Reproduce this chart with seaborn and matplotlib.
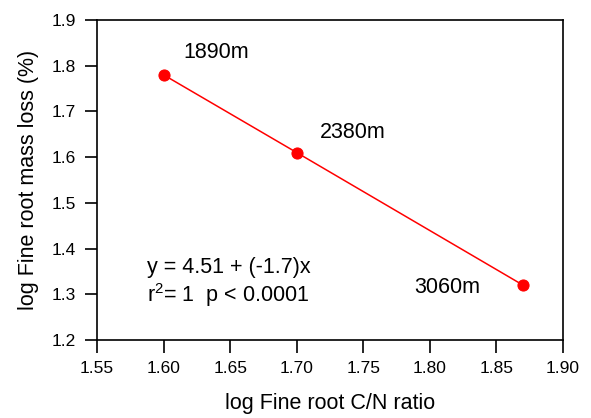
import matplotlib
matplotlib.use("Agg")
import matplotlib.pyplot as plt
import seaborn as sns
import pandas as pd

# Fine root C/N ratio vs. mass loss at three elevations
cn_ratio = [1.60, 1.70, 1.87]
mass_loss = [1.78, 1.61, 1.32]
sites = ["1890m", "2380m", "3060m"]
label_x = [1.615, 1.7175, 1.788]
label_y = [1.828, 1.653, 1.314]
x_ticks = [1.55, 1.60, 1.65, 1.70, 1.75, 1.80, 1.85, 1.90]
y_ticks = [1.2, 1.3, 1.4, 1.5, 1.6, 1.7, 1.8, 1.9]

df = pd.DataFrame({"cn": cn_ratio, "loss": mass_loss, "site": sites})

sns.set_style("white")
plt.rcParams["font.family"] = ["Liberation Sans", "DejaVu Sans"]
plt.rcParams["text.color"] = "black"
plt.rcParams["axes.labelcolor"] = "black"

fig = plt.figure(figsize=(5.91, 4.18), dpi=100)
ax = fig.add_axes([0.1641, 0.1866, 0.7885, 0.7656])

sns.lineplot(data=df, x="cn", y="loss", color="#ff0000", linewidth=1.1,
             marker="o", markersize=8, markeredgecolor="#ff0000", ax=ax)

for xl, yl, s in zip(label_x, label_y, sites):
    ax.text(xl, yl, s, fontsize=15.5, ha="left", va="center", color="black")

ax.text(1.5876, 1.3575, "y = 4.51 + (-1.7)x", fontsize=15.5, ha="left", va="center")
ax.text(1.5876, 1.2984, r"r$^{\mathregular{2}}$= 1  p < 0.0001", fontsize=15.5,
        ha="left", va="center")

ax.set_xlim(1.55, 1.90)
ax.set_ylim(1.2, 1.9)
ax.set_xticks(x_ticks)
ax.set_yticks(y_ticks)
ax.set_xticklabels([f"{v:.2f}" for v in x_ticks])
ax.set_yticklabels([f"{v:.1f}" for v in y_ticks])
ax.tick_params(axis="both", direction="out", length=9, width=1.2, labelsize=12.5,
               colors="black", bottom=True, left=True, top=False, right=False, pad=6)
for sp in ax.spines.values():
    sp.set_color("black")
    sp.set_linewidth(1.2)
    sp.set_visible(True)

ax.set_xlabel("log Fine root C/N ratio", fontsize=15.5, labelpad=12)
ax.set_ylabel("log Fine root mass loss (%)", fontsize=15.5, labelpad=9)

fig.savefig("out.png", dpi=100)
